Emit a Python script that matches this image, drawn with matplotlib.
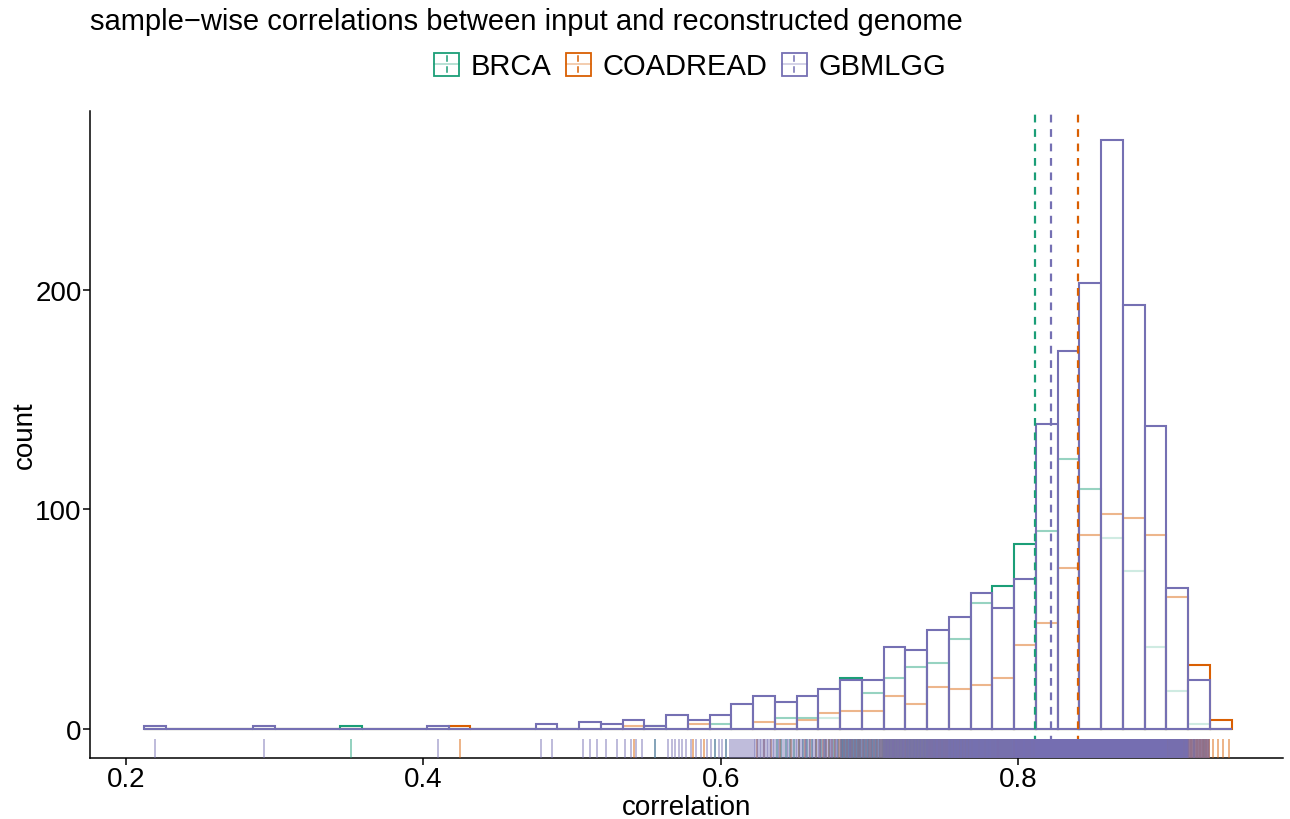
import numpy as np
import matplotlib
matplotlib.use("Agg")
import matplotlib.pyplot as plt
from matplotlib.patches import Rectangle
from matplotlib.lines import Line2D
from matplotlib.legend_handler import HandlerBase
from matplotlib.transforms import blended_transform_factory

plt.rcParams['font.family'] = ['Liberation Sans', 'DejaVu Sans']

# histogram bins: 50 bins, first left edge and width
bin_lo = 0.2124
bin_w = 0.01462
n_bins = 50

groups = ['BRCA', 'COADREAD', 'GBMLGG']
colors = ['#1B9E77', '#D95F02', '#7570B3']

# counts per bin (bin index -> count), zero elsewhere
brca_counts = {9: 1, 23: 1, 26: 2, 29: 5, 30: 5, 31: 5, 32: 23, 33: 16, 34: 23,
               35: 28, 36: 30, 37: 41, 38: 57, 39: 65, 40: 84, 41: 90, 42: 123,
               43: 109, 44: 87, 45: 72, 46: 37, 47: 17, 48: 2}
coad_counts = {14: 1, 22: 1, 25: 2, 28: 3, 29: 2, 30: 4, 31: 7, 32: 8, 33: 8,
               34: 15, 35: 11, 36: 19, 37: 18, 38: 20, 39: 23, 40: 38, 41: 48,
               42: 73, 43: 88, 44: 98, 45: 96, 46: 88, 47: 60, 48: 29, 49: 4}
gbm_counts = {0: 1, 5: 1, 13: 1, 18: 2, 20: 3, 21: 2, 22: 4, 23: 1, 24: 6, 25: 4,
              26: 6, 27: 11, 28: 15, 29: 12, 30: 15, 31: 18, 32: 22, 33: 22,
              34: 37, 35: 36, 36: 45, 37: 51, 38: 62, 39: 55, 40: 68, 41: 139,
              42: 172, 43: 203, 44: 268, 45: 193, 46: 138, 47: 64, 48: 22}

# group means (dashed lines)
group_means = [0.811, 0.8405, 0.822]

edges = bin_lo + bin_w * np.arange(n_bins + 1)


def expand(counts):
    # spread each bin's samples across the bin
    vals = []
    for i, k in counts.items():
        vals.extend(edges[i] + bin_w * (np.arange(k) + 0.5) / k)
    return np.array(vals)


samples = [expand(c) for c in (brca_counts, coad_counts, gbm_counts)]

fs = 20

fig = plt.figure(figsize=(12.9, 8.2), dpi=100)
ax = fig.add_axes([0.0698, 0.0744, 0.9248, 0.789])

for vals, col in zip(samples, colors):
    ax.hist(vals, bins=edges, facecolor=(1, 1, 1, 0.55), edgecolor=col,
            linewidth=1.5, zorder=2)

for m, col in zip(group_means, colors):
    ax.axvline(m, color=col, lw=1.6, linestyle=(0, (3.5, 3)), zorder=3)

rug_tr = blended_transform_factory(ax.transData, ax.transAxes)
for vals, col in zip(samples, colors):
    ax.vlines(vals, 0, 0.03, transform=rug_tr, color=col, alpha=0.6, lw=1.1,
              zorder=4)

ax.set_xlim(0.176, 0.978)
ax.set_ylim(-13.4, 281.4)
ax.set_xticks([0.2, 0.4, 0.6, 0.8])
ax.set_xticklabels(['0.2', '0.4', '0.6', '0.8'])
ax.set_yticks([0, 100, 200])
for side in ('top', 'right'):
    ax.spines[side].set_visible(False)
for side in ('left', 'bottom'):
    ax.spines[side].set_linewidth(1.1)
ax.tick_params(labelsize=fs, length=5, width=1.1, colors='black', pad=1)
ax.set_xlabel('correlation', fontsize=fs, va='top')
ax.xaxis.set_label_coords(0.5, -0.056)
ax.set_ylabel('count', fontsize=fs)
ax.yaxis.set_label_coords(-0.044, 0.5)


class KeyHandler(HandlerBase):
    def create_artists(self, legend, orig_handle, xdescent, ydescent,
                       width, height, fontsize, trans):
        c = orig_handle.get_edgecolor()
        x0, y0 = -xdescent, -ydescent
        cx = x0 + width / 2
        box = Rectangle((x0, y0), width, height, facecolor='white',
                        edgecolor=c, lw=1.3, transform=trans)
        mid = Line2D([x0, x0 + width], [y0 + height / 2] * 2, color=c,
                     alpha=0.4, lw=1.1, transform=trans)
        up = Line2D([cx, cx], [y0 + height * 0.62, y0 + height * 0.85],
                    color=c, lw=1.1, transform=trans)
        dn = Line2D([cx, cx], [y0 + height * 0.15, y0 + height * 0.38],
                    color=c, lw=1.1, transform=trans)
        return [box, mid, up, dn]


handles = [Rectangle((0, 0), 1, 1, facecolor='white', edgecolor=c) for c in colors]
fig.legend(handles, groups, loc='center', bbox_to_anchor=(0.535, 0.918),
           ncol=3, frameon=False, fontsize=21, handlelength=0.85,
           handleheight=0.85, handletextpad=0.4, columnspacing=0.5,
           handler_map={Rectangle: KeyHandler()})

fig.text(0.07, 1 - 22 / 820, 'sample\u2212wise correlations between input and reconstructed genome',
         fontsize=21, va='center', ha='left')

fig.savefig('out.png', dpi=100)
